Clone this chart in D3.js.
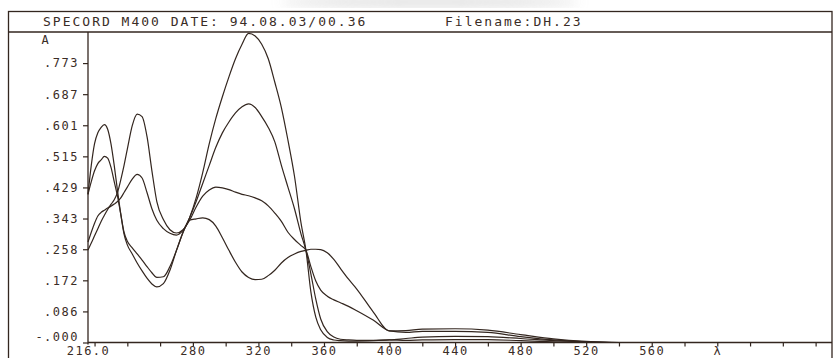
<!DOCTYPE html>
<html>
<head>
<meta charset="utf-8">
<script src="https://cdn.jsdelivr.net/npm/d3@7"></script>
<style>
  html, body { margin: 0; padding: 0; background: #fff; }
  svg { display: block; }
  text { font-family: "DejaVu Sans Mono", "Liberation Mono", monospace; fill: #3a2c26; }
</style>
</head>
<body>
<svg width="834" height="358"></svg>
<script>
// wavelength grid (nm) shared by all four spectra
const wavelengths = [216, 218, 220, 222, 224, 226, 228, 230, 232, 234, 236, 238, 240, 243, 246, 249, 252, 255, 258, 262,
  266, 270, 274, 278, 282, 286, 290, 294, 298, 302, 306, 310, 314, 318, 322, 326, 330, 334, 338, 342,
  346, 349, 352, 355, 358, 362, 366, 370, 375, 380, 390, 400, 410, 420, 440, 460, 480, 500, 520, 540, 560]

// absorbance readings, one array per spectrum
const spectrum1 = [0.41, 0.49, 0.55, 0.58, 0.595, 0.603, 0.59, 0.55, 0.49, 0.42, 0.355, 0.30, 0.27, 0.245, 0.22, 0.198, 0.178, 0.162, 0.154, 0.163,
  0.20, 0.255, 0.305, 0.345, 0.40, 0.47, 0.55, 0.62, 0.68, 0.735, 0.785, 0.825, 0.855, 0.848, 0.825, 0.785, 0.72, 0.65, 0.56, 0.46,
  0.33, 0.255, 0.14, 0.07, 0.035, 0.014, 0.007, 0.005, 0.004, 0.004, 0.005, 0.007, 0.011, 0.015, 0.017, 0.016, 0.011, 0.005, 0.002, 0.0, 0.0]
const spectrum2 = [0.41, 0.445, 0.475, 0.495, 0.505, 0.515, 0.51, 0.485, 0.445, 0.405, 0.355, 0.305, 0.28, 0.262, 0.245, 0.228, 0.21, 0.193, 0.18, 0.182,
  0.21, 0.255, 0.305, 0.345, 0.39, 0.44, 0.49, 0.54, 0.58, 0.61, 0.635, 0.652, 0.66, 0.65, 0.625, 0.595, 0.555, 0.49, 0.43, 0.37,
  0.30, 0.255, 0.19, 0.12, 0.065, 0.03, 0.015, 0.009, 0.007, 0.006, 0.006, 0.007, 0.006, 0.007, 0.008, 0.008, 0.005, 0.002, 0.0, 0.0, 0.0]
const spectrum3 = [0.256, 0.275, 0.295, 0.315, 0.335, 0.352, 0.368, 0.382, 0.395, 0.415, 0.45, 0.49, 0.535, 0.60, 0.632, 0.625, 0.57, 0.475, 0.39, 0.34,
  0.312, 0.303, 0.312, 0.338, 0.375, 0.405, 0.422, 0.43, 0.428, 0.423, 0.416, 0.41, 0.406, 0.40, 0.392, 0.378, 0.358, 0.335, 0.305, 0.285,
  0.268, 0.255, 0.21, 0.17, 0.145, 0.128, 0.118, 0.11, 0.10, 0.088, 0.062, 0.032, 0.028, 0.031, 0.031, 0.028, 0.016, 0.007, 0.002, 0.0, 0.0]
const spectrum4 = [0.278, 0.305, 0.33, 0.35, 0.36, 0.366, 0.372, 0.377, 0.383, 0.39, 0.40, 0.415, 0.43, 0.452, 0.465, 0.455, 0.415, 0.37, 0.338, 0.315,
  0.302, 0.297, 0.31, 0.338, 0.342, 0.345, 0.34, 0.322, 0.29, 0.255, 0.222, 0.195, 0.18, 0.174, 0.175, 0.185, 0.20, 0.22, 0.235, 0.245,
  0.252, 0.255, 0.258, 0.258, 0.257, 0.248, 0.23, 0.205, 0.175, 0.148, 0.085, 0.032, 0.033, 0.037, 0.038, 0.034, 0.022, 0.01, 0.003, 0.0, 0.0]

const yTickValues = [0, 0.086, 0.172, 0.258, 0.343, 0.429, 0.515, 0.601, 0.687, 0.773]
const yTickLabels = ['-.000', '.086', '.172', '.258', '.343', '.429', '.515', '.601', '.687', '.773']
const xTickValues = [216, 220, 240, 260, 280, 300, 320, 340, 360, 380, 400, 420, 440, 460, 480, 500, 520, 540, 560, 580, 600, 620, 640, 660]
const xTickLabels = ['216.0', '', '', '', '280', '', '320', '', '360', '', '400', '', '440', '', '480', '', '520', '', '560', '', 'λ', '', '', '']

const titleLeft = 'SPECORD M400 DATE: 94.08.03/00.36'
const titleRight = 'Filename:DH.23'

const ink = '#33261f'
const plotLeft = 88
const plotRight = 832
const plotTop = 32
const plotBottom = 342.5

const svg = d3.select('svg')

// faint scanner smear along the top edge
const defs = svg.append('defs')
defs.append('filter').attr('id', 'smear')
    .append('feGaussianBlur').attr('stdDeviation', 6)
svg.append('ellipse')
    .attr('cx', 430).attr('cy', 2).attr('rx', 150).attr('ry', 5)
    .attr('fill', '#cfcfcf').attr('opacity', 0.7)
    .attr('filter', 'url(#smear)')

const xScale = d3.scaleLinear().domain([216, 670]).range([plotLeft, plotRight])
const yScale = d3.scaleLinear().domain([0, 0.859]).range([plotBottom, plotTop])

// frame and title band
svg.append('rect')
    .attr('x', 8.5).attr('y', 11.5)
    .attr('width', plotRight - 8.5).attr('height', 400)
    .attr('fill', 'none').attr('stroke', ink).attr('stroke-width', 1.3)
svg.append('line')
    .attr('x1', 8.5).attr('x2', plotRight).attr('y1', plotTop).attr('y2', plotTop)
    .attr('stroke', ink).attr('stroke-width', 1.3)

svg.append('text')
    .attr('x', 43).attr('y', 26)
    .attr('font-size', 13).attr('letter-spacing', 2)
    .text(titleLeft)
svg.append('text')
    .attr('x', 445).attr('y', 26)
    .attr('font-size', 13).attr('letter-spacing', 2)
    .text(titleRight)

// axes
const yAxis = d3.axisLeft(yScale)
    .tickValues(yTickValues)
    .tickFormat((d, i) => yTickLabels[i])
    .tickSizeOuter(0)
    .tickSizeInner(5)
    .tickPadding(4)
const yAxisContainer = svg.append('g')
    .attr('transform', `translate(${plotLeft}, 0)`)
    .call(yAxis)

const xAxis = d3.axisBottom(xScale)
    .tickValues(xTickValues)
    .tickFormat((d, i) => xTickLabels[i])
    .tickSizeOuter(0)
    .tickSizeInner(4)
    .tickPadding(1)
const xAxisContainer = svg.append('g')
    .attr('transform', `translate(0, ${plotBottom})`)
    .call(xAxis)

for (const c of [xAxisContainer, yAxisContainer]) {
    c.select('.domain').remove()
    c.selectAll('.tick line').attr('stroke', ink).attr('stroke-width', 1.2)
    c.selectAll('.tick text')
        .attr('font-family', '"DejaVu Sans Mono", monospace')
        .attr('font-size', 12)
        .attr('letter-spacing', 1.5)
        .attr('fill', ink)
}
// zero label sits a little above the axis line
yAxisContainer.selectAll('.tick text')
    .filter((d) => d === 0)
    .attr('dy', '-0.2em')
// x labels hug the axis so they stay inside the picture
xAxisContainer.selectAll('.tick text').attr('dy', '0.6em')
// the 216.0 tick is the y axis itself
xAxisContainer.selectAll('.tick line').filter((d) => d === 216).remove()

svg.append('line')
    .attr('x1', plotLeft).attr('x2', plotLeft).attr('y1', plotTop).attr('y2', plotBottom + 2)
    .attr('stroke', ink).attr('stroke-width', 1.3)
svg.append('line')
    .attr('x1', plotLeft).attr('x2', plotRight).attr('y1', plotBottom).attr('y2', plotBottom)
    .attr('stroke', ink).attr('stroke-width', 1.4)

svg.append('text')
    .attr('x', 45).attr('y', 44)
    .attr('font-size', 12).attr('text-anchor', 'middle')
    .text('A')

// spectra
const spectra = [spectrum1, spectrum2, spectrum3, spectrum4]
const line = d3.line()
    .x((d, i) => xScale(wavelengths[i]))
    .y((d) => yScale(d))
    .curve(d3.curveMonotoneX)

svg.append('g')
    .attr('class', 'data-container')
    .selectAll('path')
    .data(spectra)
    .join('path')
    .attr('d', line)
    .attr('fill', 'none')
    .attr('stroke', ink)
    .attr('stroke-width', 1.2)
    .attr('stroke-linejoin', 'round')
</script>
</body>
</html>
